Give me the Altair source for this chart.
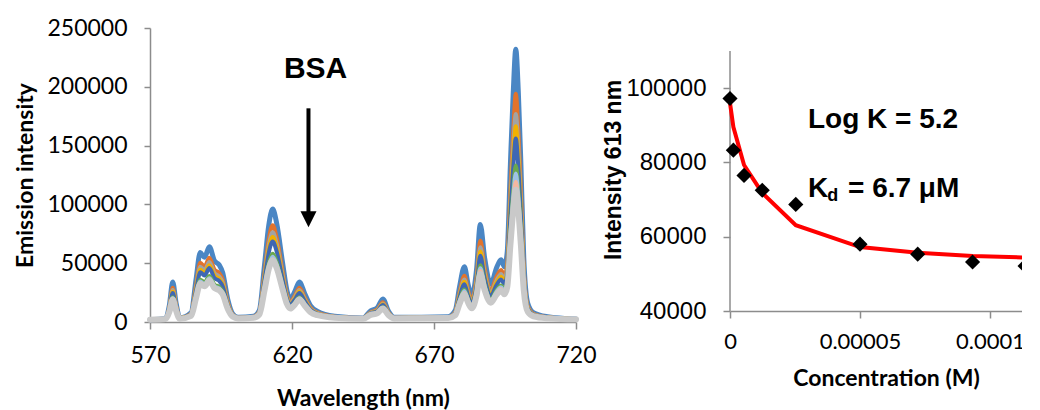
import altair as alt
import pandas as pd

# ---------------- Left panel: emission spectra (9 BSA additions) ----------------
wavelength = [570, 575.5, 576.8, 578, 579.2, 580.5, 584.5, 586.2, 587.7, 589.2,
              590.9, 592.7, 594.4, 595.6, 597.4, 599.1, 601, 606.5, 608.5, 610.3,
              611.8, 613.2, 614.6, 616.7, 618.2, 619.4, 621, 622.6, 624.5, 626.5,
              629, 635, 645, 647.7, 650, 652, 654, 656, 675, 677.5,
              679, 680.7, 682, 683.3, 685, 686.3, 687.8, 690, 692, 693.6,
              694.8, 695.8, 696.9, 697.9, 698.8, 699.7, 700.6, 701.6, 703, 705,
              710, 720]

s1 = [2000, 3000, 14000, 34000, 16000, 3500, 8000, 36000, 59000, 55000,
      64000, 52000, 48500, 42000, 19000, 7000, 4000, 5000, 10000, 48000,
      82000, 96000, 84000, 50000, 27000, 19500, 26000, 34000, 24000, 14000,
      9000, 5000, 3500, 9500, 12000, 19500, 9000, 4000, 4500, 10000,
      30000, 47000, 32000, 22000, 45000, 83000, 55000, 32000, 46000, 53000,
      47000, 60000, 134000, 195000, 232000, 195000, 134000, 55000, 16000, 8000,
      4500, 2500]
s2 = [2000, 2850, 12200, 29200, 13900, 3300, 7100, 30900, 50450, 47050,
      54700, 44500, 41500, 36000, 16450, 6250, 3700, 4550, 8800, 41100,
      70000, 82300, 71700, 42800, 23250, 16900, 22400, 29200, 20700, 12200,
      7950, 4550, 3300, 8400, 10500, 16900, 7950, 3700, 4100, 8640,
      25240, 39350, 26900, 18600, 37700, 69200, 46000, 26900, 38500, 44300,
      39350, 50100, 111600, 162200, 194000, 162200, 111600, 46000, 13600, 7000,
      4100, 2400]
s3 = [2000, 2800, 11500, 27300, 13050, 3200, 6750, 28900, 47000, 43900,
      51000, 41500, 38700, 33600, 15400, 5950, 3600, 4350, 8300, 38300,
      65200, 76300, 66800, 39900, 21750, 15800, 21000, 27300, 19400, 11500,
      7550, 4350, 3200, 7900, 9900, 15800, 7550, 3600, 3900, 8100,
      23300, 36200, 24800, 17200, 34700, 63600, 42300, 24800, 35400, 40800,
      36200, 46100, 102300, 148700, 176800, 148700, 102300, 42300, 12600, 6550,
      3900, 2400]
s4 = [2000, 2750, 10950, 25900, 12440, 3100, 6480, 27360, 44520, 41540,
      48250, 39300, 36690, 31840, 14680, 5730, 3500, 4240, 7970, 36320,
      61680, 72300, 63170, 37810, 20650, 15060, 19900, 25870, 18410, 10950,
      7220, 4240, 3100, 7600, 9460, 15060, 7220, 3500, 3800, 7720,
      22020, 34180, 23450, 16300, 32750, 59920, 39900, 23450, 33460, 38470,
      34180, 43470, 96380, 140000, 166450, 140000, 96380, 39900, 12010, 6290,
      3790, 2360]
s5 = [2000, 2700, 10480, 24620, 11900, 3060, 6240, 26040, 42300, 39470,
      45830, 37350, 34880, 30280, 14020, 5540, 3410, 4120, 7660, 34520,
      58560, 68460, 59970, 35940, 19680, 14370, 18970, 24620, 17550, 10480,
      6950, 4120, 3060, 7300, 9070, 14370, 6950, 3410, 3770, 7360,
      20760, 32150, 22100, 15400, 30810, 56270, 37510, 22100, 31480, 36170,
      32150, 40860, 90440, 131310, 156100, 131310, 90440, 37510, 11380, 6020,
      3680, 2340]
s6 = [2000, 2600, 9160, 21100, 10360, 2900, 5580, 22300, 36030, 33640,
      39010, 31850, 29760, 25880, 12150, 4990, 3190, 3790, 6780, 29460,
      49760, 58120, 50950, 30660, 16930, 12450, 16330, 21100, 15130, 9160,
      6180, 3790, 2900, 6480, 7970, 12450, 6180, 3190, 3490, 6560,
      17960, 27650, 19100, 13400, 26510, 48170, 32210, 19100, 27080, 31070,
      27650, 35060, 77240, 112010, 133100, 112010, 77240, 32210, 9980, 5420,
      3430, 2290]
s7 = [2000, 2570, 8830, 20210, 9970, 2850, 5410, 21350, 34430, 32160,
      37280, 30450, 28460, 24760, 11670, 4850, 3140, 3710, 6550, 28170,
      47520, 55490, 48660, 29310, 16230, 11960, 15660, 20210, 14520, 8830,
      5980, 3710, 2850, 6270, 7690, 11960, 5980, 3140, 3420, 6320,
      17120, 26300, 18200, 12800, 25220, 45740, 30620, 18200, 25760, 29540,
      26300, 33320, 73280, 106220, 126200, 106220, 73280, 30620, 9560, 5240,
      3350, 2270]
s8 = [2000, 2550, 8560, 19500, 9660, 2820, 5280, 20600, 33180, 30990,
      35910, 29350, 27440, 23880, 11300, 4740, 3090, 3640, 6380, 27160,
      45760, 53420, 46850, 28260, 15680, 11570, 15130, 19500, 14030, 8560,
      5830, 3640, 2820, 6100, 7470, 11570, 5830, 3090, 3370, 6080,
      16280, 24950, 17300, 12200, 23930, 43310, 29030, 17300, 24440, 28010,
      24950, 31580, 69320, 100430, 119300, 100430, 69320, 29030, 9140, 5060,
      3280, 2260]
s9 = [2000, 2540, 8430, 19150, 9500, 2800, 5220, 20220, 32550, 30410,
      35230, 28800, 26920, 23440, 11110, 4680, 3070, 3610, 6290, 26660,
      44880, 52380, 45950, 27730, 15400, 11380, 14860, 19150, 13790, 8430,
      5750, 3610, 2800, 6020, 7360, 11380, 5750, 3070, 3340, 5840,
      15440, 23600, 16400, 11600, 22640, 40880, 27440, 16400, 23120, 26480,
      23600, 29840, 65360, 94640, 112400, 94640, 65360, 27440, 8720, 4880,
      3200, 2240]

spectra = [s1, s2, s3, s4, s5, s6, s7, s8, s9]
series_colors = ["#4A86C4", "#E2732C", "#A3A3A3", "#F2B100", "#3E67B4",
                 "#6AA84F", "#9DC3E6", "#F4B8A0", "#C9C9C9"]
series_widths = [5, 4, 4, 4, 4, 4, 4, 4, 6]

x_ticks_left = [570, 620, 670, 720]
y_ticks_left = [0, 50000, 100000, 150000, 200000, 250000]

# ---------------- Right panel: binding titration ----------------
concentration = [0, 0.0000013, 0.0000054, 0.0000124, 0.0000253,
                 0.00005, 0.0000722, 0.0000933, 0.0001135]
intensity_613 = [97200, 83300, 76500, 72500, 68700, 58000, 55300, 53200, 52100]
fit_613 = [96000, 89500, 79300, 71800, 63100, 57200, 55700, 54800, 54400]

x_ticks_right = [0, 0.00005, 0.0001]
y_ticks_right = [40000, 60000, 80000, 100000]
y_axis_extent = [40000, 110000]

AXIS_GRAY = "#8C8C8C"
CAL = "Lato"
ARIAL = "Liberation Sans"

rows = []
for i, vals in enumerate(spectra):
    for w, v in zip(wavelength, vals):
        rows.append({"series": i, "wavelength": w, "intensity": v})
spec_df = pd.DataFrame(rows)

x_left = alt.X("wavelength:Q",
               scale=alt.Scale(domain=[570, 720], nice=False, zero=False),
               axis=alt.Axis(values=x_ticks_left, title="Wavelength (nm)", format="d",
                             labelFont=CAL, labelFontSize=23, labelColor="black",
                             titleFont=CAL, titleFontSize=23, titleFontWeight="bold",
                             titleColor="black", domainColor=AXIS_GRAY, tickColor=AXIS_GRAY,
                             domainWidth=1.5, tickWidth=1.5, tickSize=7,
                             labelPadding=15, titlePadding=20, grid=False,
                             labelFlush=False))
y_left = alt.Y("intensity:Q",
               scale=alt.Scale(domain=[0, 250000], nice=False),
               axis=alt.Axis(values=y_ticks_left, title="Emission intensity", format="d",
                             labelFont=CAL, labelFontSize=23, labelColor="black",
                             titleFont=CAL, titleFontSize=23, titleFontWeight="bold",
                             titleColor="black", domainColor=AXIS_GRAY, tickColor=AXIS_GRAY,
                             domainWidth=1.5, tickWidth=1.5, tickSize=6,
                             labelPadding=17, titlePadding=9, grid=False))

layers = []
for i in range(len(spectra)):
    layers.append(
        alt.Chart(spec_df).transform_filter(alt.datum.series == i)
        .mark_line(color=series_colors[i], strokeWidth=series_widths[i],
                   interpolate="monotone", strokeCap="round", strokeJoin="round")
        .encode(x=x_left, y=y_left)
    )

bsa_df = pd.DataFrame({"x": [628.3], "y": [207400], "t": ["BSA"]})
bsa_text = alt.Chart(bsa_df).mark_text(font=ARIAL, fontWeight="bold", fontSize=30,
                                       align="center", baseline="alphabetic",
                                       color="black").encode(x="x:Q", y="y:Q", text="t:N")
arrow_df = pd.DataFrame({"x": [625.8], "y1": [181700], "y2": [93400], "yh": [87400]})
arrow_shaft = alt.Chart(arrow_df).mark_rule(color="black", strokeWidth=4).encode(
    x="x:Q", y="y1:Q", y2="y2:Q")
arrow_head = alt.Chart(arrow_df).mark_point(shape="M-1,-1L1,-1L0,1Z", filled=True,
                                            size=256, color="black", opacity=1).encode(
    x="x:Q", y="yh:Q")

left = alt.layer(*layers, arrow_shaft, arrow_head, bsa_text).properties(width=426, height=294)

bind_df = pd.DataFrame({"conc": concentration, "intensity": intensity_613, "fit": fit_613})

x_right = alt.X("conc:Q",
                scale=alt.Scale(domain=[0, 0.00012], nice=False),
                axis=alt.Axis(values=x_ticks_right, title="Concentration (M)", format=".5~f",
                              labelFont=CAL, labelFontSize=22, labelColor="black",
                              titleFont=CAL, titleFontSize=23, titleFontWeight="bold",
                              titleColor="black", domainColor=AXIS_GRAY, tickColor=AXIS_GRAY,
                              domainWidth=1.5, tickWidth=1.5, tickSize=7,
                              labelPadding=13, titlePadding=15, grid=False, labelFlush=False))
y_axis_right = alt.Axis(values=y_ticks_right, title="Intensity 613 nm", format="d",
                        labelFont=ARIAL, labelFontSize=24, labelColor="black",
                        titleFont=ARIAL, titleFontSize=23, titleFontWeight="bold",
                        titleColor="black", domain=False, tickColor=AXIS_GRAY,
                        tickWidth=1.5, tickSize=7,
                        labelPadding=17, titlePadding=0, grid=False)
y_scale_right = alt.Scale(domain=[40000, 116190], nice=False, zero=False)

axis_df = pd.DataFrame({"conc": [0], "y1": [y_axis_extent[0]], "y2": [y_axis_extent[1]]})
y_axis_line = alt.Chart(axis_df).mark_rule(color=AXIS_GRAY, strokeWidth=1.5).encode(
    x=x_right, y=alt.Y("y1:Q", scale=y_scale_right, axis=y_axis_right), y2="y2:Q")

fit_line = alt.Chart(bind_df).mark_line(color="#FF0000", strokeWidth=4).encode(
    x=x_right, y=alt.Y("fit:Q", scale=y_scale_right, axis=y_axis_right))
points = alt.Chart(bind_df).mark_point(shape="diamond", filled=True, size=230,
                                       color="black", opacity=1).encode(
    x=x_right, y=alt.Y("intensity:Q", scale=y_scale_right, axis=y_axis_right))

ann_df = pd.DataFrame({
    "x": [0.00003, 0.00003, 0.0000374, 0.0000454],
    "y": [89180, 70790, 69590, 70790],
    "t": ["Log K = 5.2", "K", "d", "= 6.7 \u03bcM"],
    "size": ["big", "big", "small", "big"],
})
ann_big = alt.Chart(ann_df).transform_filter(alt.datum.size == "big").mark_text(
    font=ARIAL, fontWeight="bold", fontSize=28, align="left", baseline="alphabetic",
    color="black").encode(x="x:Q", y="y:Q", text="t:N")
ann_small = alt.Chart(ann_df).transform_filter(alt.datum.size == "small").mark_text(
    font=ARIAL, fontWeight="bold", fontSize=18, align="left", baseline="alphabetic",
    color="black").encode(x="x:Q", y="y:Q", text="t:N")

right = alt.layer(y_axis_line, fit_line, points, ann_big, ann_small).properties(
    width=312, height=283)

chart = alt.hconcat(left, right, spacing=5).properties(
    padding={"left": 6, "top": 9, "right": -20, "bottom": 0}
).configure_view(stroke=None)

chart.save("out.html", embed_options={"renderer": "svg", "actions": False})
